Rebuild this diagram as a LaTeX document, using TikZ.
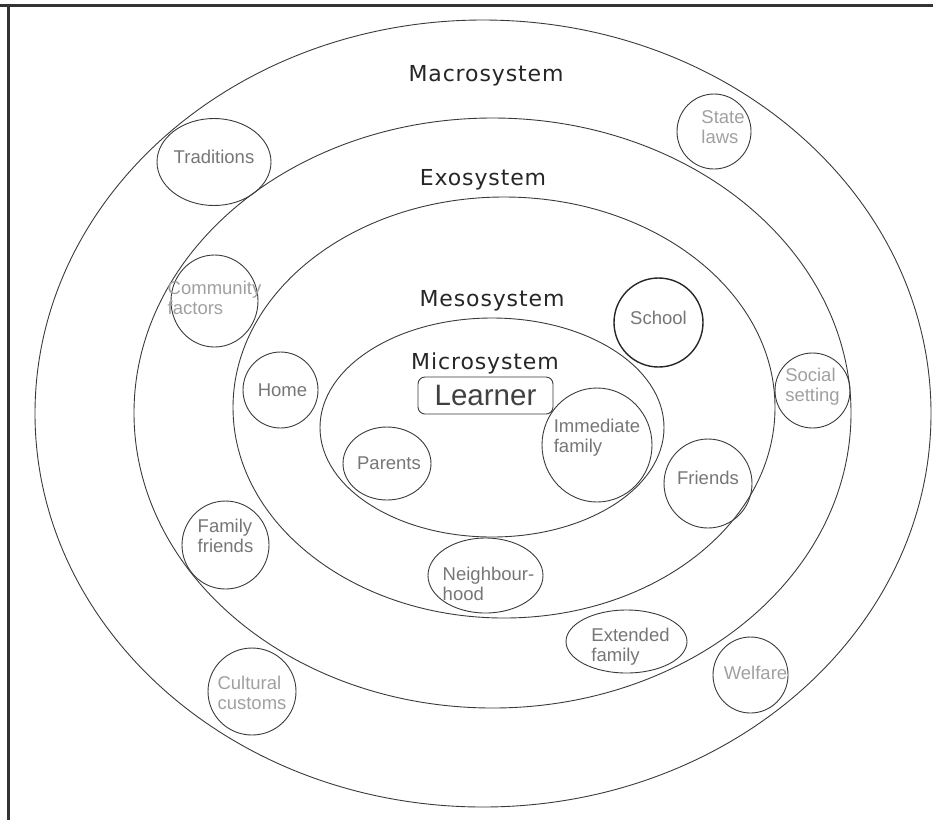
\documentclass[tikz,border=0pt]{standalone}
\usepackage{fontspec}
\setmainfont{Liberation Sans}
\newfontfamily\sysfont[LetterSpace=4]{DejaVu Sans}
\usetikzlibrary{shapes.geometric}

\definecolor{ringline}{HTML}{3A3A3A}
\definecolor{lbltext}{HTML}{767676}
\definecolor{lblpale}{HTML}{A0A0A0}

\tikzset{
  ring/.style={draw=ringline, line width=0.9pt, ellipse, inner sep=0pt},
  bubble/.style 2 args={ring, minimum width=#1, minimum height=#2},
  lbl/.style={text=lbltext, align=left, inner sep=0pt, font=\fontsize{18.5}{20}\selectfont},
  pale/.style={text=lblpale},
  syslabel/.style={anchor=base, text=black!85, font=\sysfont\fontsize{22}{26}\selectfont},
}

\begin{document}
\begin{tikzpicture}[x=1pt, y=-1pt]
	\useasboundingbox (0,0) rectangle (933,820);

	% frame
	\draw[line width=3pt, black!80] (0,5.5) -- (933,5.5);
	\draw[line width=3pt, black!80] (8,4) -- (8,820);

	% the four systems
	\node[ring, minimum width=896pt, minimum height=787pt] (macro) at (483,413.5) {};
	\node[ring, minimum width=717pt, minimum height=590pt] (exo)   at (492.5,413) {};
	\node[ring, minimum width=542pt, minimum height=421pt] (meso)  at (504,407.5) {};
	\node[ring, minimum width=344pt, minimum height=219pt] (micro) at (492,427.5) {};

	\node[syslabel] (macrolbl) at (486,81)  {Macrosystem};
	\node[syslabel] (exolbl)   at (483,185) {Exosystem};
	\node[syslabel] (mesolbl)  at (492,306) {Mesosystem};
	\node[syslabel] (microlbl) at (485,369) {Microsystem};

	\node[draw=ringline, line width=0.9pt, rounded corners=7pt, minimum width=135pt, minimum height=37pt,
	      inner sep=0pt, text=black!75, font=\fontsize{29.5}{30}\selectfont] (learner) at (485.5,395.5) {Learner};

	% macrosystem
	\node[bubble={114pt}{87pt}, label={[lbl, yshift=5pt]center:Traditions}] (trad) at (214,162) {};
	\node[bubble={74pt}{75pt}, label={[lbl, pale, xshift=9pt, yshift=4pt]center:{State\\laws}}] (state) at (714,131.5) {};
	\node[bubble={88pt}{87pt}, label={[lbl, pale, yshift=-1pt]center:{Cultural\\customs}}] (cultural) at (252,691.5) {};
	\node[bubble={75pt}{76pt}, label={[lbl, pale, xshift=5pt, yshift=2pt]center:Welfare}] (welfare) at (750.5,675) {};

	% exosystem
	\node[bubble={87pt}{92pt}, label={[lbl, pale, yshift=3pt]center:{Community\\factors}}] (community) at (214.5,301) {};
	\node[bubble={75pt}{75pt}, label={[lbl, pale, yshift=4pt]center:{Social\\setting}}] (social) at (812.5,390.5) {};
	\node[bubble={87pt}{88pt}, label={[lbl, yshift=9pt]center:{Family\\friends}}] (famfriends) at (225.5,545) {};
	\node[bubble={121pt}{63pt}, label={[lbl, xshift=4pt, yshift=-5pt]center:{Extended\\family}}] (extended) at (626.5,641.5) {};

	% mesosystem
	\node[bubble={89pt}{89pt}, draw=black!85, line width=1.4pt, label={[lbl, yshift=5pt]center:School}] (school) at (658.5,322.5) {};
	\node[bubble={75pt}{76pt}, label={[lbl, xshift=2pt]center:Home}] (home) at (280.5,390) {};
	\node[bubble={88pt}{89pt}, label={[lbl, yshift=6pt]center:Friends}] (friends) at (708,483.5) {};
	\node[bubble={115pt}{75pt}, label={[lbl, xshift=3pt, yshift=-8pt]center:{Neighbour-\\hood}}] (neighbour) at (485.5,575.5) {};

	% microsystem
	\node[bubble={88pt}{73pt}, label={[lbl, xshift=2pt]center:Parents}] (parents) at (387,463.5) {};
	\node[bubble={110pt}{114pt}, label={[lbl, yshift=7pt]center:{Immediate\\family}}] (immediate) at (597,445) {};
\end{tikzpicture}
\end{document}
